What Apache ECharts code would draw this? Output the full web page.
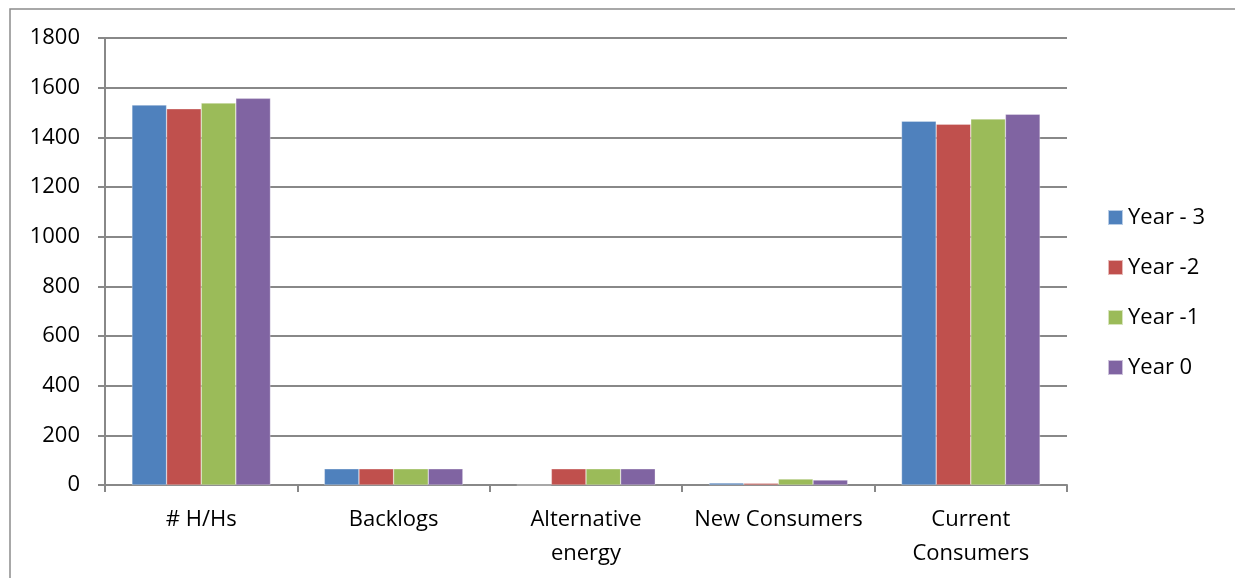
<!DOCTYPE html>
<html>
<head>
<meta charset="utf-8">
<script src="https://cdn.jsdelivr.net/npm/echarts@6/dist/echarts.min.js"></script>
<style>
  html, body { margin: 0; padding: 0; background: #fff; }
  #chart { width: 1235px; height: 578px; }
</style>
</head>
<body>
<div id="chart"></div>
<script>
// Categories and yearly values
const categories = ['# H/Hs', 'Backlogs', 'Alternative\nenergy', 'New Consumers', 'Current\nConsumers'];
const seriesNames = ['Year - 3', 'Year -2', 'Year -1', 'Year 0'];
const yearMinus3 = [1530, 65, 0, 8, 1465];
const yearMinus2 = [1515, 65, 65, 7, 1453];
const yearMinus1 = [1538, 65, 65, 24, 1474];
const year0 = [1557, 65, 65, 20, 1493];
const yTicks = [0, 200, 400, 600, 800, 1000, 1200, 1400, 1600, 1800];

const colors = ['#4F81BD', '#C0504D', '#9BBB59', '#8064A2'];
const values = [yearMinus3, yearMinus2, yearMinus1, year0];
const font = 'Open Sans, "Noto Sans", sans-serif';
const fontSize = 22;

const chart = echarts.init(document.getElementById('chart'), null, { renderer: 'canvas' });
chart.setOption({
  animation: false,
  backgroundColor: '#fff',
  color: colors,
  graphic: [{
    type: 'rect',
    shape: { x: 10, y: 9, width: 1300, height: 700 },
    style: { fill: 'none', stroke: '#8c8c8c', lineWidth: 1.5 },
    silent: true
  }],
  grid: { left: 105, right: 168, top: 38, bottom: 93, containLabel: false },
  legend: {
    orient: 'vertical',
    left: 1102,
    top: 200.5,
    itemWidth: 15,
    itemHeight: 15,
    itemGap: 26,
    icon: 'rect',
    textStyle: { fontFamily: font, fontSize: fontSize, lineHeight: 24, color: '#000', padding: [0, 0, 0, 0] },
    data: seriesNames
  },
  xAxis: {
    type: 'category',
    data: categories,
    axisLine: { lineStyle: { color: '#888', width: 2 } },
    axisTick: { show: true, length: 7, lineStyle: { color: '#888', width: 2 } },
    axisLabel: { fontFamily: font, fontSize: fontSize, color: '#000', margin: 18, lineHeight: 34, interval: 0 }
  },
  yAxis: {
    type: 'value',
    min: 0,
    max: 1800,
    interval: 200,
    axisLine: { show: true, lineStyle: { color: '#888', width: 2 } },
    axisTick: { show: true, length: 7, lineStyle: { color: '#888', width: 2 } },
    splitLine: { lineStyle: { color: '#888', width: 2 } },
    axisLabel: {
      fontFamily: font, fontSize: fontSize, color: '#000', margin: 25,
      formatter: v => yTicks.includes(v) ? String(v) : ''
    }
  },
  series: seriesNames.map((name, i) => ({
    name,
    type: 'bar',
    data: values[i],
    barGap: '0%',
    barCategoryGap: '28%',
    itemStyle: { color: colors[i], borderColor: 'rgba(255,255,255,0.6)', borderWidth: 0.5 }
  }))
});
</script>
</body>
</html>
